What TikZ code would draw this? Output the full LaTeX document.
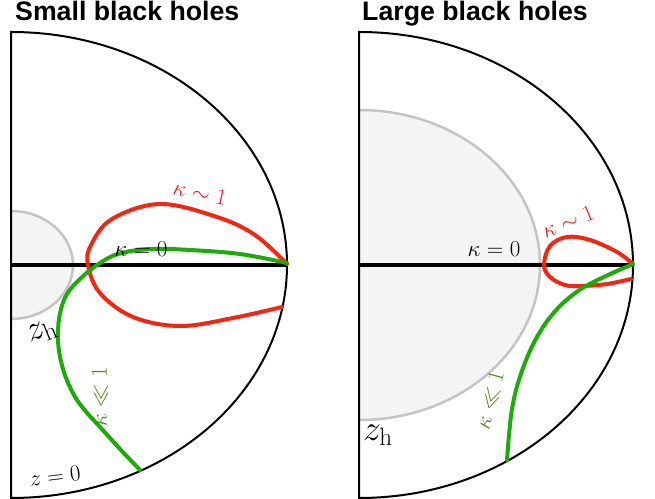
\RequirePackage{fix-cm}
\documentclass[tikz,border=0pt]{standalone}
\usepackage{fontspec}
\newfontfamily\titlefont{Liberation Sans}
\definecolor{curvered}{RGB}{238,40,20}
\definecolor{curvegreen}{RGB}{30,170,10}
\definecolor{labelred}{RGB}{235,30,40}
\definecolor{labelgreen}{RGB}{80,140,30}
\definecolor{diskfill}{RGB}{244,244,244}
\definecolor{diskline}{RGB}{196,196,196}
\tikzset{
  outline/.style={draw=black, line width=2bp},
  axisline/.style={draw=black, line width=4bp},
  diskarea/.style={fill=diskfill},
  diskedge/.style={draw=diskline, line width=2.5bp},
  redcurve/.style={draw=curvered, line width=4bp, line cap=round},
  greencurve/.style={draw=curvegreen, line width=4bp, line cap=round},
  titletext/.style={inner sep=0pt, anchor=base west, font=\titlefont\bfseries\fontsize{26.8}{30}\selectfont},
  mathlabel/.style={inner sep=0pt, font=\fontsize{23}{27}\selectfont},
  biglabel/.style={inner sep=0pt, font=\fontsize{36}{40}\selectfont},
}
\begin{document}
\begin{tikzpicture}[x=1bp,y=1bp]
\useasboundingbox (0,0) rectangle (655,499);
% ---------- left panel ----------
\fill[diskarea] (11,288) arc[start angle=90,end angle=-90,x radius=62,y radius=54] -- cycle;
\draw[diskedge] (11,288) arc[start angle=90,end angle=-90,x radius=62,y radius=54];
\draw[outline] (11,467) arc[start angle=90,end angle=-90,x radius=276,y radius=233] -- cycle;
\coordinate (Lc) at (11,234);
\coordinate (Lr) at (287,234);
\draw[axisline] (Lc) -- (Lr);
\draw[redcurve] plot[smooth, tension=0.6] coordinates {(287,235) (255,264) (217,282) (160,295) (112,280) (91,254) (88,234) (100,206) (133,182) (180,173) (233,181) (282,192)};
\draw[greencurve] plot[smooth, tension=0.6] coordinates {(287,236) (240,245) (190,249) (150,250) (118,245) (97,234) (80,220) (67,205) (60,186) (58,166) (59,148) (63,130) (69,114) (77,99) (88,85) (100,72) (120,50) (140,29)};
\node[titletext] (tL) at (15,478) {Small black holes};
\node[mathlabel, text=labelred, rotate=-12] (kL1) at (200,306) {$\kappa\sim 1$};
\node[mathlabel] (kL0) at (141,250) {$\kappa=0$};
\node[mathlabel, text=labelgreen, rotate=90] (kLs) at (100,102) {$\kappa\ll 1$};
\node[biglabel, rotate=22] (zhL) at (42,167) {$z_{\mathrm{h}}$};
\node[mathlabel, rotate=7] (z0) at (55,23) {$z=0$};
% ---------- right panel ----------
\fill[diskarea] (359,389) arc[start angle=90,end angle=-90,x radius=181,y radius=155] -- cycle;
\draw[diskedge] (359,389) arc[start angle=90,end angle=-90,x radius=181,y radius=155];
\draw[outline] (359,467) arc[start angle=90,end angle=-90,x radius=274,y radius=233] -- cycle;
\coordinate (Rc) at (359,234);
\coordinate (Rr) at (633,234);
\draw[axisline] (Rc) -- (Rr);
\draw[redcurve] plot[smooth, tension=0.6] coordinates {(633,235) (617,247) (590,259) (567,262) (550,253) (544,234) (550,222) (565,214) (582,213) (607,215) (631,220)};
\draw[greencurve] plot[smooth, tension=0.6] coordinates {(633,235) (606,223) (581,210) (560,193) (543,172) (529,146) (518,116) (512,90) (509,64) (507,39)};
\node[titletext] (tR) at (362,478) {Large black holes};
\node[mathlabel] (kR0) at (494,250) {$\kappa=0$};
\node[mathlabel, text=labelred, rotate=22] (kR1) at (568,277) {$\kappa\sim 1$};
\node[mathlabel, text=labelgreen, rotate=75] (kRs) at (490,99) {$\kappa\ll 1$};
\node[biglabel] (zhR) at (378,64) {$z_{\mathrm{h}}$};
\end{tikzpicture}
\end{document}
